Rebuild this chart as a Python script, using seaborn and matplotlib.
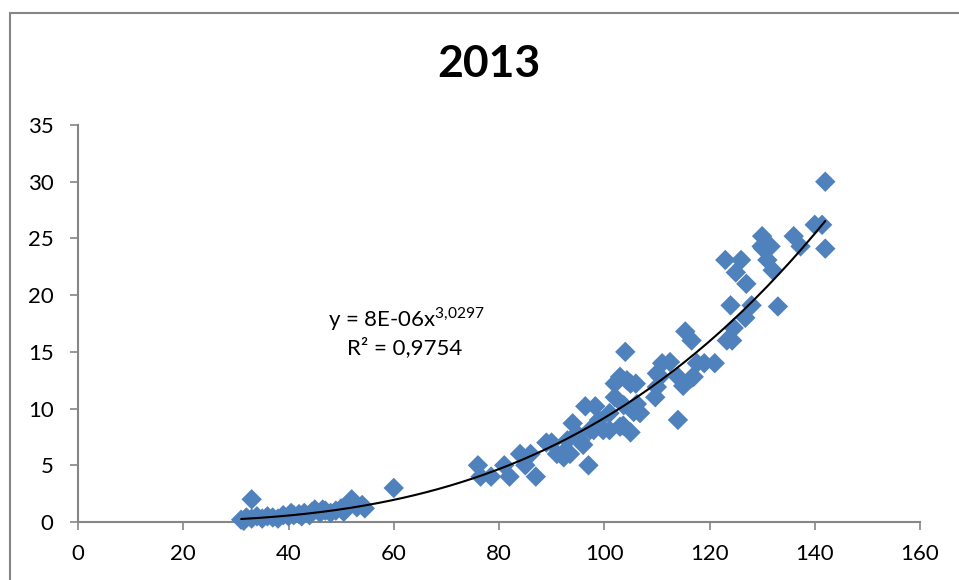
import numpy as np
import pandas as pd
import matplotlib
matplotlib.use("Agg")
import matplotlib.pyplot as plt
from matplotlib.lines import Line2D
import seaborn as sns

# Measurements for 2013
x_vals = [31, 31.5, 32, 33, 33, 34, 35, 36, 37, 38, 39, 40, 40.5, 41, 42, 42.5, 43, 44,
          44.5, 45, 46, 46.5, 47, 48, 49, 50, 50.5, 51, 51.5, 52, 52.5, 53, 54, 54.5, 60,
          76, 76.5, 78.5, 81, 82, 84, 85, 86, 87, 89, 90, 91, 92, 92.3, 93, 93.5, 94,
          94.8, 95.4, 96, 96.4, 97, 97.3, 98, 98.3, 99, 99.8, 101, 101, 102, 102, 103,
          103, 103.6, 103.7, 104, 104.3, 105, 105, 105.6, 106, 106.2, 106.8, 109.7, 110,
          110, 110.6, 111, 112.5, 114, 114, 115, 115.4, 116.6, 116.6, 117, 117.6, 119,
          121, 123.3, 124.3, 124.6, 124, 126.8, 128, 133, 123, 126, 125, 127, 130, 130.2,
          131, 132, 129.9, 131.6, 136, 137.3, 140, 141.4, 142, 142]
y_vals = [0.2, 0.1, 0.4, 2.0, 0.3, 0.5, 0.3, 0.5, 0.4, 0.3, 0.6, 0.5, 0.8, 0.6, 0.7, 0.5, 0.8, 0.6,
          0.9, 1.1, 0.8, 1.1, 1.0, 0.8, 1.0, 1.2, 0.9, 1.3, 1.6, 2.0, 1.7, 1.3, 1.5, 1.2, 3.0,
          5.0, 4.0, 4.0, 5.0, 4.0, 6.0, 5.0, 6.0, 4.0, 7.0, 7.0, 6.0, 6.0, 5.7, 7.2, 6.0, 8.7,
          7.8, 7.2, 6.8, 10.2, 5.0, 8.1, 8.1, 10.2, 9.0, 8.1, 9.6, 8.1, 12.2, 11.0, 8.4,
          12.8, 8.5, 10.3, 15.0, 12.5, 7.9, 12.2, 9.7, 12.2, 10.4, 9.6, 11.0, 11.9,
          13.1, 12.8, 14.0, 14.1, 9.0, 12.8, 12.0, 16.8, 16.0, 12.7, 12.8, 14.0, 14.0,
          14.0, 16.0, 16.0, 17.1, 19.1, 18.0, 19.1, 19.0, 23.1, 23.1, 22.0, 21.0, 25.2, 24.1,
          23.1, 22.2, 24.3, 24.3, 25.2, 24.3, 26.2, 26.2, 24.1, 30.0]

# Power trendline coefficients
coef_a = 8e-06
coef_b = 3.0297
r_squared = "0,9754"

x_ticks = [0, 20, 40, 60, 80, 100, 120, 140, 160]
y_ticks = [0, 5, 10, 15, 20, 25, 30, 35]

sns.set_style("white")
plt.rcParams["font.family"] = ["Lato", "DejaVu Sans"]
plt.rcParams["mathtext.fontset"] = "custom"
plt.rcParams["mathtext.rm"] = "Lato"
plt.rcParams["text.color"] = "black"

df = pd.DataFrame({"x": x_vals, "y": y_vals})
xs = np.linspace(min(x_vals), max(x_vals), 200)
trend = pd.DataFrame({"x": xs, "y": coef_a * xs ** coef_b})

fig = plt.figure(figsize=(9.59, 5.8), dpi=100)
ax = fig.add_axes([78 / 959, 1 - 522 / 580, (920 - 78) / 959, (522 - 125) / 580])

grey = "#868686"
sns.scatterplot(data=df, x="x", y="y", marker="D", s=108, color="#4F81BD",
                edgecolor="none", linewidth=0, ax=ax, zorder=3, clip_on=False)
sns.lineplot(data=trend, x="x", y="y", color="black", linewidth=1.5, ax=ax, zorder=4)

ax.set_xlim(0, 160)
ax.set_ylim(0, 35)
ax.set_xticks(x_ticks)
ax.set_yticks(y_ticks)
ax.set_xlabel("")
ax.set_ylabel("")
for side in ("top", "right"):
    ax.spines[side].set_visible(False)
for side in ("left", "bottom"):
    ax.spines[side].set_color(grey)
    ax.spines[side].set_linewidth(1.5)
    ax.spines[side].set_zorder(2)
ax.tick_params(axis="both", which="major", bottom=True, left=True, direction="out",
               length=5.5, width=1.2, color=grey, labelsize=16, labelcolor="black")
ax.tick_params(axis="x", pad=10)
ax.tick_params(axis="y", pad=12)

ax.text(62.5, 17.9, r"y = 8E-06x$^{\mathrm{3{,}0297}}$", ha="center", va="center",
        fontsize=16, color="black")
ax.text(62.0, 15.4, "R² = " + r_squared, ha="center", va="center", fontsize=16,
        color="black")

fig.text(489 / 959, 1 - 64 / 580, "2013", ha="center", va="center",
         fontsize=32, fontweight="bold", color="black")

# Chart-area frame
fig.add_artist(Line2D([10 / 959, 10 / 959], [0, 1 - 13 / 580], transform=fig.transFigure,
                      color=grey, linewidth=1.5))
fig.add_artist(Line2D([10 / 959, 1], [1 - 13 / 580, 1 - 13 / 580], transform=fig.transFigure,
                      color=grey, linewidth=1.5))

fig.savefig("out.png", dpi=100, facecolor="white")
